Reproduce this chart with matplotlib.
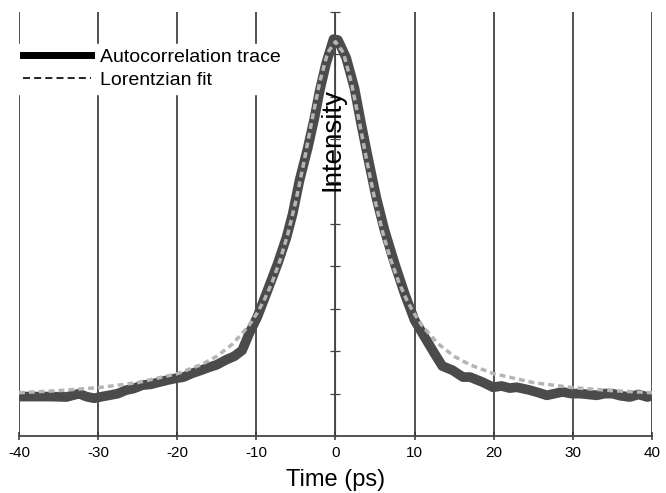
import numpy as np
import matplotlib
matplotlib.use('Agg')
import matplotlib.pyplot as plt
from matplotlib.lines import Line2D

plt.rcParams['font.family'] = ['Liberation Sans', 'DejaVu Sans']

# autocorrelation trace (time in ps, intensity in arb. units)
trace_t = [-40, -38, -36, -34, -33, -32.4, -31.5, -30.5, -29.5, -28.6, -27.5, -26.5,
           -25.5, -24.4, -23.3, -22.3, -21.2, -20.2, -19.2, -18.1, -17, -16, -15,
           -13.8, -12.8, -11.8, -10.9, -9.9, -8.6, -7.3, -6.2, -5.4, -4.56, -3.5,
           -2.66, -2, -1.2, -0.25, 0.3, 1.35, 2.4, 3.25, 4.1, 5.15, 6.2, 7.47, 8.73,
           10, 11.5, 12.5, 13.5, 14.8, 16.1, 17, 18.6, 19.9, 21, 22, 22.9, 24.6,
           25.7, 26.7, 27.7, 28.7, 29.8, 30.9, 32, 33, 34, 35, 36, 37.2, 38.3, 39.4, 40]
trace_y = [0.93, 0.93, 0.93, 0.92, 0.97, 1.0, 0.93, 0.89, 0.93, 0.96, 1.0, 1.08,
           1.12, 1.2, 1.22, 1.27, 1.32, 1.36, 1.39, 1.48, 1.55, 1.62, 1.68,
           1.8, 1.88, 2.02, 2.42, 2.8, 3.43, 4.07, 4.68, 5.25, 6.02, 6.8,
           7.5, 8.14, 8.78, 9.36, 9.34, 8.92, 8.2, 7.36, 6.57, 5.63, 4.85, 4.07, 3.36,
           2.73, 2.26, 1.95, 1.65, 1.55, 1.39, 1.39, 1.27, 1.15, 1.18, 1.13, 1.15, 1.08,
           1.02, 0.96, 1.0, 1.04, 1.0, 1.0, 0.98, 0.96, 1.0, 1.0, 0.95, 0.92, 0.98, 0.92, 0.95]

# lorentzian fit curve
fit_t = [-40, -35, -30, -25, -20, -17, -15, -13, -11, -10, -9, -8, -7, -6, -5, -4,
         -3, -2, -1, 0, 1, 2, 3, 4, 5, 6, 7, 8, 9, 10, 11, 13, 15, 17, 20, 25, 30, 35, 40]
fit_y = [1.02, 1.07, 1.14, 1.26, 1.47, 1.68, 1.88, 2.17, 2.59, 2.87, 3.21, 3.63,
         4.15, 4.78, 5.55, 6.45, 7.42, 8.34, 9.04, 9.30, 9.04, 8.34, 7.42, 6.45,
         5.55, 4.78, 4.15, 3.63, 3.21, 2.87, 2.59, 2.17, 1.88, 1.68, 1.47, 1.26,
         1.14, 1.07, 1.02]

xticks = [-40, -30, -20, -10, 0, 10, 20, 30, 40]

fig = plt.figure(figsize=(6.66, 4.93), dpi=100)
ax = fig.add_axes([0.0285, 0.1156, 0.9505, 0.860])

ax.plot(trace_t, trace_y, color='#4b4b4b', lw=7, solid_joinstyle='round',
        solid_capstyle='butt', zorder=3)
fl, = ax.plot(fit_t, fit_y, color='#b5b5b5', lw=2.5, ls='--', zorder=4)
fl.set_dashes((1.7, 1.15))

ax.set_xlim(-40, 40)
ax.set_ylim(0, 10)
ax.set_xticks(xticks)
ax.set_xticklabels([str(v) for v in xticks], fontsize=11)
ax.xaxis.grid(True, color='#222222', lw=1.1)
ax.set_axisbelow(True)
ax.tick_params(axis='x', direction='inout', length=6, width=1.1, pad=4, color='#333333')

ax.spines['top'].set_visible(False)
ax.spines['right'].set_visible(False)
ax.spines['left'].set_position(('data', 0))
ax.spines['left'].set_color('#444444')
ax.spines['bottom'].set_color('#444444')
ax.spines['bottom'].set_linewidth(1.3)
ax.set_yticks(range(1, 11))
ax.set_yticklabels([])
ax.tick_params(axis='y', direction='inout', length=7, width=0.9, color='#444444')

ax.text(-0.4, 7.0, 'Intensity', rotation=90, ha='center', va='center', fontsize=20)
ax.set_xlabel('Time (ps)', fontsize=17, labelpad=7)

handles = [Line2D([], [], color='black', lw=5),
           Line2D([], [], color='black', lw=1.2, ls=(0, (4.2, 2.5)))]
leg = ax.legend(handles, ['Autocorrelation trace', 'Lorentzian fit'],
                loc='upper left', bbox_to_anchor=(-0.0015, 0.925), fontsize=14,
                frameon=True, handlelength=3.5, handletextpad=0.45,
                labelspacing=0.25, borderpad=0.25, borderaxespad=0.0)
leg.get_frame().set_edgecolor('white')
leg.get_frame().set_facecolor('white')
leg.get_frame().set_alpha(1)
leg.get_frame().set_boxstyle('square', pad=0)

fig.savefig('out.png', dpi=100)
